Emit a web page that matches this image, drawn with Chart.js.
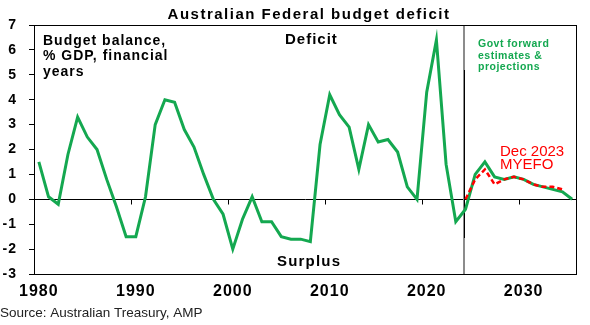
<!DOCTYPE html>
<html>
<head>
<meta charset="utf-8">
<script src="https://cdn.jsdelivr.net/npm/chart.js@4/dist/chart.umd.min.js"></script>
<style>
  html, body { margin: 0; padding: 0; background: #fff; }
  #wrap { width: 590px; height: 325px; position: relative; }
</style>
</head>
<body>
<div id="wrap"><canvas id="c"></canvas></div>
<script>
// Financial years (year ending June)
const years = [
  1980, 1981, 1982, 1983, 1984, 1985, 1986, 1987, 1988, 1989,
  1990, 1991, 1992, 1993, 1994, 1995, 1996, 1997, 1998, 1999,
  2000, 2001, 2002, 2003, 2004, 2005, 2006, 2007, 2008, 2009,
  2010, 2011, 2012, 2013, 2014, 2015, 2016, 2017, 2018, 2019,
  2020, 2021, 2022, 2023, 2024, 2025, 2026, 2027, 2028, 2029,
  2030, 2031, 2032, 2033, 2034, 2035
];

// Budget balance, % of GDP (positive = deficit), incl. forward estimates
const balance = [
  1.5, 0.1, -0.2, 1.8, 3.3, 2.5, 2.0, 0.8, -0.3, -1.5,
  -1.5, 0.1, 3.0, 4.0, 3.9, 2.8, 2.1, 1.0, 0.0, -0.6,
  -2.0, -0.8, 0.1, -0.9, -0.9, -1.5, -1.6, -1.6, -1.7, 2.2,
  4.2, 3.4, 2.9, 1.2, 3.0, 2.3, 2.4, 1.9, 0.5, 0.0,
  4.3, 6.4, 1.4, -0.9, -0.4, 1.0, 1.5, 0.9, 0.8, 0.9,
  0.8, 0.6, 0.5, 0.4, 0.3, 0.0
];

// Dec 2023 MYEFO projections
const myefoYears = [2024, 2025, 2026, 2027, 2028, 2029, 2030, 2031, 2032, 2033, 2034];
const myefo = [0.0, 0.8, 1.2, 0.6, 0.8, 0.9, 0.8, 0.6, 0.5, 0.5, 0.4];

const xTickYears = [1980, 1990, 2000, 2010, 2020, 2030];
const yTickMin = -3;
const yTickMax = 7;
const forecastStart = 2023.8;

const GREEN = '#14A850';
const RED = '#FF0000';
const FONT = '"Liberation Sans", Arial, sans-serif';

function text(ctx, str, x, y, font, color, align, spacing) {
  ctx.save();
  ctx.font = font;
  ctx.fillStyle = color;
  ctx.textAlign = align || 'left';
  ctx.textBaseline = 'alphabetic';
  ctx.letterSpacing = spacing || '0px';
  ctx.fillText(str, x, y);
  ctx.restore();
}

const decor = {
  id: 'decor',
  beforeDraw(chart) {
    chart.ctx.letterSpacing = '1px';
  },
  beforeDatasetsDraw(chart) {
    const { ctx, chartArea: a, scales } = chart;
    const xs = scales.x, ys = scales.y;
    const y0 = Math.round(ys.getPixelForValue(0)) + 0.5;
    ctx.save();
    // forecast divider
    const xd = Math.round(xs.getPixelForValue(forecastStart));
    ctx.strokeStyle = '#8c8c8c';
    ctx.lineWidth = 2;
    ctx.beginPath();
    ctx.moveTo(xd, a.top);
    ctx.lineTo(xd, a.bottom);
    ctx.stroke();
    ctx.strokeStyle = '#000';
    ctx.lineWidth = 1;
    ctx.beginPath();
    ctx.moveTo(xd + 0.5, a.top + 45);
    ctx.lineTo(xd + 0.5, a.bottom - 36);
    ctx.stroke();
    // decade tick marks hanging off the zero line
    ctx.strokeStyle = '#000';
    ctx.lineWidth = 1;
    xTickYears.forEach(yr => {
      const px = Math.round(xs.getPixelForValue(yr - 0.5)) + 0.5;
      if (px <= a.left + 1) return;
      ctx.beginPath();
      ctx.moveTo(px, y0);
      ctx.lineTo(px, y0 + 5);
      ctx.stroke();
    });
    // plot frame
    ctx.strokeRect(Math.round(a.left) + 0.5, Math.round(a.top) + 0.5,
                   Math.round(a.right - a.left) - 1, Math.round(a.bottom - a.top));
    ctx.restore();
  },
  afterDraw(chart) {
    const ctx = chart.ctx;
    text(ctx, 'Australian Federal budget deficit', 309, 18.5, 'bold 15px ' + FONT, '#000', 'center', '1.5px');

    const b = 'bold 14px ' + FONT;
    text(ctx, 'Budget balance,', 43, 44.5, b, '#000', 'left', '1px');
    text(ctx, '% GDP, financial', 43, 60, b, '#000', 'left', '1px');
    text(ctx, 'years', 43, 75.5, b, '#000', 'left', '1px');

    text(ctx, 'Deficit', 285, 44, 'bold 15px ' + FONT, '#000', 'left', '1px');
    text(ctx, 'Surplus', 277, 266, 'bold 15px ' + FONT, '#000', 'left', '1.2px');

    const g = 'bold 10.5px ' + FONT;
    text(ctx, 'Govt forward', 478, 47.3, g, GREEN, 'left', '0.5px');
    text(ctx, 'estimates &', 478, 59, g, GREEN, 'left', '0.5px');
    text(ctx, 'projections', 478, 70.3, g, GREEN, 'left', '0.5px');

    text(ctx, 'Dec 2023', 500, 155.5, '15px ' + FONT, RED, 'left', '0px');
    text(ctx, 'MYEFO', 500, 169, '15px ' + FONT, RED, 'left', '0px');

    text(ctx, 'Source: Australian Treasury, AMP', 0, 316.5, '13.5px ' + FONT, '#222', 'left', '0px');
  }
};

new Chart(document.getElementById('c'), {
  type: 'line',
  data: {
    datasets: [
      {
        label: 'Dec 2023 MYEFO',
        data: myefoYears.map((yr, i) => ({ x: yr, y: myefo[i] })),
        borderColor: RED,
        borderWidth: 2.5,
        borderDash: [5, 3],
        pointRadius: 0,
        tension: 0,
        order: 0
      },
      {
        label: 'Budget balance',
        data: years.map((yr, i) => ({ x: yr, y: balance[i] })),
        borderColor: GREEN,
        borderWidth: 3,
        pointRadius: 0,
        tension: 0,
        order: 1
      }
    ]
  },
  options: {
    responsive: true,
    maintainAspectRatio: false,
    animation: false,
    events: [],
    layout: { padding: { left: 0, top: 25, right: 13, bottom: 21 } },
    plugins: { legend: { display: false }, tooltip: { enabled: false }, title: { display: false } },
    scales: {
      x: {
        type: 'linear',
        min: 1979.5,
        max: 2035.5,
        afterBuildTicks(scale) { scale.ticks = xTickYears.map(v => ({ value: v })); },
        afterFit(scale) { scale.height = 30; },
        grid: { display: false, drawTicks: false },
        border: { display: false },
        ticks: {
          color: '#000',
          font: { family: FONT, size: 16, weight: 'bold' },
          padding: 8,
          maxRotation: 0,
          autoSkip: false,
          callback: v => String(v)
        }
      },
      y: {
        type: 'linear',
        min: yTickMin,
        max: yTickMax,
        afterFit(scale) { scale.width = 34; },
        grid: {
          drawOnChartArea: true,
          color: c => (c.tick && c.tick.value === 0 ? '#000' : 'rgba(0,0,0,0)'),
          tickColor: '#000',
          tickLength: 5,
          lineWidth: 1
        },
        border: { display: false },
        ticks: {
          stepSize: 1,
          color: '#000',
          font: { family: FONT, size: 14, weight: 'bold' },
          padding: 12
        }
      }
    }
  },
  plugins: [decor]
});
</script>
</body>
</html>
